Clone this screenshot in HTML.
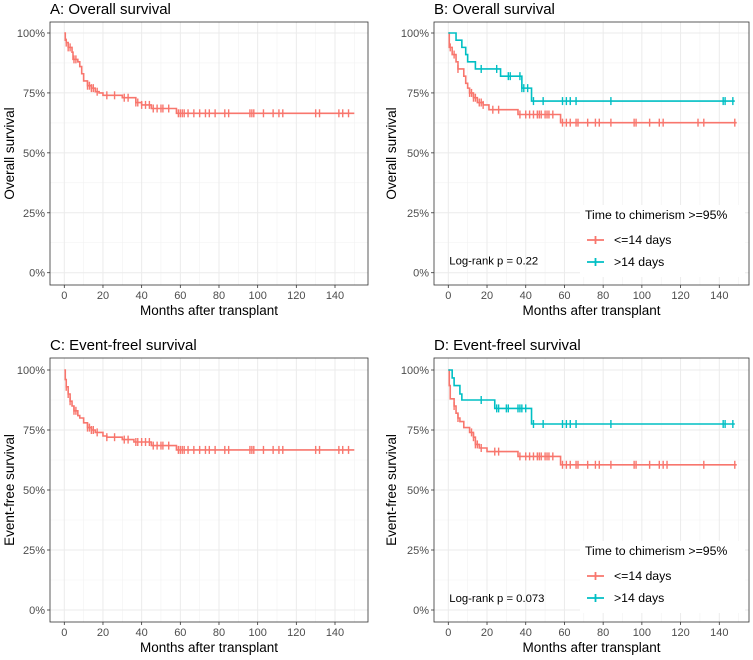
<!DOCTYPE html>
<html><head><meta charset="utf-8"><style>
body{margin:0;background:#fff}
svg{display:block;font-family:"Liberation Sans",Arial,sans-serif}
</style></head><body>
<svg id="fig" width="753" height="660" xmlns="http://www.w3.org/2000/svg"></svg>
<script>
// Panel A: overall survival
const aTimes=[0,0.5,1,2,4,4.5,7,8,9,10,12,14,16,18,20,30,37,40,45,58];
const aSurv=[1,0.97,0.96,0.94,0.92,0.89,0.88,0.86,0.83,0.80,0.78,0.77,0.755,0.75,0.74,0.73,0.71,0.70,0.685,0.665];
const aCens=[1,2,3,5,6,12,13,14,15,17,22,26,31,33,37,38,40,42,44,46,48,50,51,54,59,60,61,62,64,67,70,73,75,78,83,85,96,97,98,103,108,111,113,130,132,142,144,147];
// Panel B
const bRedTimes=[0,0.5,2,4,5,8,9,10,11,13,15,18,21,36,58];
const bRedSurv=[1,0.94,0.91,0.88,0.85,0.82,0.79,0.77,0.75,0.73,0.71,0.70,0.68,0.66,0.626];
const bRedCens=[1,3,5,11,12,13,14,16,17,18,23,26,37,40,42,44,46,47,48,50,51,52,54,59,61,63,66,67,72,76,78,84,96,97,104,109,111,129,132,148];
const bCyTimes=[0,4,7,9,10,14,27,38,43];
const bCySurv=[1,0.97,0.94,0.91,0.88,0.85,0.82,0.77,0.716];
const bCyCens=[17,25,31,32,37,38,39,41,44,49,59,61,63,66,84,142,143,147];
// Panel C
const cTimes=[0,0.5,1,2,3,4,5,7,8,10,12,14,16,20,22,30,36,45,58];
const cSurv=[1,0.96,0.93,0.90,0.87,0.85,0.83,0.81,0.80,0.78,0.76,0.75,0.74,0.725,0.72,0.71,0.70,0.685,0.667];
const cCens=[1,2,3,5,6,12,13,14,15,17,22,26,31,33,37,38,40,42,44,46,48,50,51,54,59,60,61,62,64,67,70,73,75,78,83,85,96,97,98,103,108,111,113,130,132,142,144,147];
// Panel D
const dRedTimes=[0,0.5,1,3,4,5,6,8,11,13,14,16,20,36,58];
const dRedSurv=[1,0.935,0.88,0.85,0.82,0.80,0.785,0.76,0.74,0.72,0.69,0.675,0.66,0.64,0.605];
const dRedCens=[3,5,12,13,14,15,17,24,26,37,40,42,44,46,47,48,50,51,52,54,59,61,63,66,67,72,76,78,84,96,97,104,109,111,113,132,148];
const dCyTimes=[0,2,3,6,7,24,43];
const dCySurv=[1,0.967,0.935,0.9,0.875,0.84,0.775];
const dCyCens=[17,25,26,30,31,36,37,38,40,44,49,59,61,63,66,84,142,143,147];
const xTicks=[0,20,40,60,80,100,120,140];
const yTicks=[0,0.25,0.5,0.75,1];
const yTickLabels=["0%","25%","50%","75%","100%"];

const NS="http://www.w3.org/2000/svg";
const svg=document.getElementById('fig');
function el(tag,attrs,parent,text){const e=document.createElementNS(NS,tag);for(const k in attrs)e.setAttribute(k,attrs[k]);if(text!==undefined)e.textContent=text;(parent||svg).appendChild(e);return e;}
const RED="#F8766D",CY="#00BFC4";

function panel(o){
  const g=el('g',{});
  
  
  const L=o.px,R=o.px+o.pw,T=o.py,B=o.py+o.ph;
  const x=t=>o.x0+t*(o.x140-o.x0)/140;
  const y=s=>o.y0+s*(o.y100-o.y0);
  for(let t=-10;t<=150;t+=20){if(x(t)>L&&x(t)<R)el('line',{x1:x(t),x2:x(t),y1:T,y2:B,stroke:'#f2f2f2','stroke-width':0.6},g);}
  for(let s=0.125;s<1.1;s+=0.25){el('line',{x1:L,x2:R,y1:y(s),y2:y(s),stroke:'#f2f2f2','stroke-width':0.6},g);}
  xTicks.forEach(t=>{el('line',{x1:x(t),x2:x(t),y1:T,y2:B,stroke:'#ebebeb','stroke-width':1},g);
    el('line',{x1:x(t),x2:x(t),y1:B,y2:B+3,stroke:'#333','stroke-width':0.8},g);
    const tl=el('text',{x:x(t),y:B+14,'font-size':11,fill:'#4d4d4d','text-anchor':'middle'},g,String(t));
    });
  yTicks.forEach((s,i)=>{el('line',{x1:L,x2:R,y1:y(s),y2:y(s),stroke:'#ebebeb','stroke-width':1},g);
    el('line',{x1:L-3,x2:L,y1:y(s),y2:y(s),stroke:'#333','stroke-width':0.8},g);
    const tl=el('text',{x:L-5,y:y(s)+4,'font-size':11,fill:'#4d4d4d','text-anchor':'end'},g,yTickLabels[i]);
    });
  if(o.legend){
    const lg=el('g',{},g);
    
    const ly=o.legY;
    el('rect',{x:o.legX-5,y:ly-14,width:R-o.legX+1,height:72,fill:'#fff'},lg);
    el('text',{x:o.legX,y:ly,'font-size':12.3,fill:'#000'},lg,'Time to chimerism >=95%');
    [[RED,'<=14 days',21],[CY,'>14 days',43]].forEach(([c,lab,dy])=>{
      const e=el('g',{},lg);
      el('line',{x1:o.legX+2,x2:o.legX+19,y1:ly+dy,y2:ly+dy,stroke:c,'stroke-width':1.8},e);
      el('line',{x1:o.legX+10.5,x2:o.legX+10.5,y1:ly+dy-4,y2:ly+dy+4,stroke:c,'stroke-width':1.8},e);
      el('text',{x:o.legX+29,y:ly+dy+4,'font-size':12.3,fill:'#000'},e,lab);
    });
    const pv=el('text',{x:x(0)+1,y:y(0)-8,'font-size':11.3,fill:'#000'},g,o.pval);
    
  }
  o.series.forEach(sr=>{
    let d='M'+x(sr.t[0])+','+y(sr.s[0]);
    for(let i=1;i<sr.t.length;i++){d+=' H'+x(sr.t[i])+' V'+y(sr.s[i]);}
    d+=' H'+x(sr.end);
    const p=el('path',{d:d,fill:'none',stroke:sr.c,'stroke-width':1.6},g);
    
    sr.cens.forEach(ct=>{let v=sr.s[0];for(let i=0;i<sr.t.length;i++)if(sr.t[i]<=ct)v=sr.s[i];
      const m=el('line',{x1:x(ct),x2:x(ct),y1:y(v)-4,y2:y(v)+4,stroke:sr.c,'stroke-width':1.4},g);
      });
  });
  el('rect',{x:L,y:T,width:o.pw,height:o.ph,fill:'none',stroke:'#333','stroke-width':0.8},g);
  const tt=el('text',{x:L,y:T-8,'font-size':15,fill:'#000'},g,o.title);
  
  const xt=el('text',{x:(L+R)/2,y:B+30,'font-size':13.5,fill:'#000','text-anchor':'middle'},g,'Months after transplant');
  
  const yt=el('text',{x:0,y:0,'font-size':13.5,fill:'#000','text-anchor':'middle',transform:`translate(${o.ytx},${(T+B)/2}) rotate(-90)`},g,o.ylab);
  
}
panel({name:'panel-a',title:'A: Overall survival',ylab:'Overall survival',px:50,py:22,pw:318,ph:263,x0:64.3,x140:335,y0:272.7,y100:33,ytx:14,
  series:[{name:'overall',t:aTimes,s:aSurv,cens:aCens,c:RED,end:150}]});
panel({name:'panel-b',title:'B: Overall survival',ylab:'Overall survival',px:434,py:22,pw:315,ph:263,x0:448.3,x140:719.3,y0:272.7,y100:33,ytx:396,
  legend:true,legX:585,legY:219,pval:'Log-rank p = 0.22',
  series:[{name:'le14',t:bRedTimes,s:bRedSurv,cens:bRedCens,c:RED,end:149},{name:'gt14',t:bCyTimes,s:bCySurv,cens:bCyCens,c:CY,end:148}]});
panel({name:'panel-c',title:'C: Event-freel survival',ylab:'Event-free survival',px:50,py:358,pw:318,ph:264,x0:64.3,x140:335,y0:610,y100:370,ytx:14,
  series:[{name:'efs',t:cTimes,s:cSurv,cens:cCens,c:RED,end:150}]});
panel({name:'panel-d',title:'D: Event-freel survival',ylab:'Event-free survival',px:434,py:358,pw:315,ph:264,x0:448.3,x140:719.3,y0:610,y100:370,ytx:396,
  legend:true,legX:585,legY:555,pval:'Log-rank p = 0.073',
  series:[{name:'le14',t:dRedTimes,s:dRedSurv,cens:dRedCens,c:RED,end:149},{name:'gt14',t:dCyTimes,s:dCySurv,cens:dCyCens,c:CY,end:148}]});
</script>
</body></html>
